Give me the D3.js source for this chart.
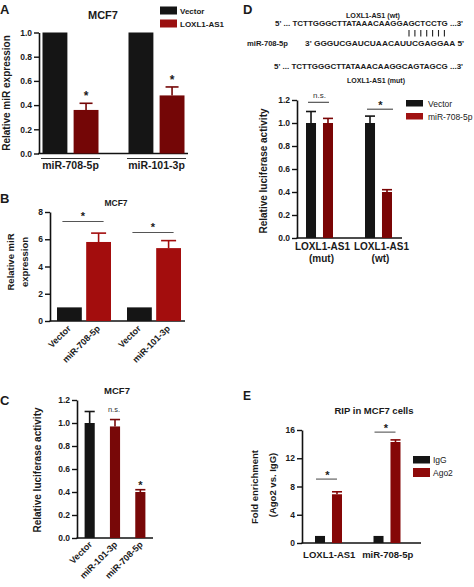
<!DOCTYPE html>
<html><head><meta charset="utf-8">
<script src="https://cdn.jsdelivr.net/npm/d3@7"></script>
<style>
body{margin:0;background:#fff}
text{font-family:"Liberation Sans",Arial,sans-serif;font-weight:bold;fill:#1a1a1a}
</style></head><body>
<script>
// ---------- DATA ----------
// Panel A
const groupsA = ["miR-708-5p", "miR-101-3p"];
const seriesA = ["Vector", "LOXL1-AS1"];
const vectorA = [1.0, 1.0];
const loxl1A = [0.36, 0.48];
const loxl1ErrA = [0.055, 0.07];
const sigA = ["*", "*"];
const yTicksA = [0, 0.2, 0.4, 0.6, 0.8, 1.0];
// Panel B
const groupsB = ["miR-708-5p", "miR-101-3p"];
const seriesB = ["Vector", "mimic"];
const barLabelsB = [["Vector", "miR-708-5p"], ["Vector", "miR-101-3p"]];
const vectorB = [1.0, 1.0];
const mimicB = [5.8, 5.35];
const mimicErrB = [0.65, 0.55];
const sigB = ["*", "*"];
const sigLevelB = [7.3, 6.5];
const yTicksB = [0, 2, 4, 6, 8];
// Panel C
const labelsC = ["Vector", "miR-101-3p", "miR-708-5p"];
const valuesC = [1.0, 0.97, 0.40];
const errC = [0.10, 0.06, 0.02];
const sigC = ["", "n.s.", "*"];
const yTicksC = [0, 0.2, 0.4, 0.6, 0.8, 1.0, 1.2];
// Panel D
const seqTitleWt = "LOXL1-AS1 (wt)";
const seqWt = "5' ... TCTTGGGCTTATAAACAAGGAGCTCCTG ...3'";
const pairing = "|||||||";
const seqMirName = "miR-708-5p";
const seqMir = "3'  GGGUCGAUCUAACAUUCGAGGAA  5'";
const seqMut = "5' ... TCTTGGGCTTATAAACAAGGCAGTAGCG ...3'";
const seqTitleMut = "LOXL1-AS1 (mut)";
const groupsD = [["LOXL1-AS1", "(mut)"], ["LOXL1-AS1", "(wt)"]];
const seriesD = ["Vector", "miR-708-5p"];
const vectorD = [1.0, 1.0];
const vectorErrD = [0.10, 0.06];
const mirD = [1.0, 0.40];
const mirErrD = [0.04, 0.02];
const sigD = ["n.s.", "*"];
const sigLevelD = [1.18, 1.12];
const yTicksD = [0, 0.2, 0.4, 0.6, 0.8, 1.0, 1.2];
// Panel E
const groupsE = ["LOXL1-AS1", "miR-708-5p"];
const seriesE = ["IgG", "Ago2"];
const igGE = [1, 1];
const ago2E = [6.9, 14.3];
const ago2ErrE = [0.35, 0.3];
const sigE = ["*", "*"];
const sigLevelE = [9.05, 15.7];
const yTicksE = [0, 4, 8, 12, 16];

// ---------- STYLE ----------
const BLACK = "#151515";
const RED_A = "#740606", RED_B = "#a30d0d", RED_C = "#780808", RED_D = "#7a0505", RED_E = "#850707";
const LEG_RED_A = "#9a1010", LEG_RED_D = "#a01212", LEG_RED_E = "#8e0a0a";

const svg = d3.select("body").append("svg").attr("width", 474).attr("height", 587);

function text(x, y, s, size, opts = {}) {
  const t = svg.append("text").attr("x", x).attr("y", y).attr("font-size", size).text(s)
    .attr("text-anchor", opts.anchor || "start");
  if (opts.weight) t.style("font-weight", opts.weight);
  if (opts.rotate !== undefined) t.attr("transform", `rotate(${opts.rotate},${x},${y})`);
  if (opts.len) t.attr("textLength", opts.len).attr("lengthAdjust", "spacingAndGlyphs");
  if (opts.fill) t.style("fill", opts.fill);
  return t;
}
function yAxis(y, x, ticks, fmt, fs) {
  const g = svg.append("g").attr("transform", `translate(${x},0)`)
    .call(d3.axisLeft(y).tickValues(ticks).tickFormat(d3.format(fmt)).tickSize(5).tickSizeOuter(0).tickPadding(2));
  g.select(".domain").attr("stroke", "#111").attr("stroke-width", 1.6);
  g.selectAll(".tick line").attr("stroke", "#111").attr("stroke-width", 1.4);
  g.selectAll(".tick text").attr("font-size", fs);
  return g;
}
function hline(x1, x2, y, color, w) {
  svg.append("line").attr("x1", x1).attr("x2", x2).attr("y1", y).attr("y2", y)
    .attr("stroke", color || "#111").attr("stroke-width", w || 1.6);
}
function bar(x, w, v, err, y, color, capW) {
  svg.append("rect").attr("x", x).attr("width", w).attr("y", y(v)).attr("height", y(0) - y(v)).attr("fill", color);
  if (err > 0) {
    const cx = x + w / 2;
    svg.append("line").attr("x1", cx).attr("x2", cx).attr("y1", y(v)).attr("y2", y(v + err))
      .attr("stroke", color).attr("stroke-width", 1.6);
    svg.append("line").attr("x1", cx - capW / 2).attr("x2", cx + capW / 2).attr("y1", y(v + err)).attr("y2", y(v + err))
      .attr("stroke", color).attr("stroke-width", 1.6);
  }
}

// ---------- PANEL A ----------
{
  const y = d3.scaleLinear([0, 1], [153.5, 32.5]);
  const x0 = d3.scaleBand(groupsA, [27.5, 199.5]);
  const x1 = d3.scaleBand(seriesA, [15, 71]).paddingInner(0.2);
  text(0, 14, "A", 13);
  text(103, 19, "MCF7", 11, { anchor: "middle" });
  text(10, 93, "Relative miR expression", 10, { anchor: "middle", rotate: -90 });
  yAxis(y, 39, yTicksA, ".1f", 8.5);
  hline(38, 188, y(0));
  groupsA.forEach((g, i) => {
    const gx = x0(g);
    bar(gx + x1("Vector"), x1.bandwidth(), vectorA[i], 0, y, BLACK, 0);
    bar(gx + x1("LOXL1-AS1"), x1.bandwidth(), loxl1A[i], loxl1ErrA[i], y, RED_A, 13);
    const cx = gx + x1("LOXL1-AS1") + x1.bandwidth() / 2;
    text(cx, y(loxl1A[i] + loxl1ErrA[i]) - 3, sigA[i], 12, { anchor: "middle" });
    hline(gx + x1.range()[0] - 1.5, gx + x1.range()[1] + 1.5, 158.5, "#333", 1.2);
    text(gx + x0.bandwidth() / 2, 169, g, 10.5, { anchor: "middle" });
  });
  const leg = [[seriesA[0], BLACK], [seriesA[1], LEG_RED_A]];
  leg.forEach((d, i) => {
    svg.append("rect").attr("x", 160).attr("y", 6.5 + i * 13).attr("width", 17).attr("height", 8).attr("fill", d[1]);
    text(180, 13.5 + i * 13, d[0], 8);
  });
}

// ---------- PANEL B ----------
{
  const y = d3.scaleLinear([0, 8], [321, 212]);
  const x0 = d3.scaleBand(groupsB, [49, 189]);
  const x1 = d3.scaleBand(seriesB, [8, 62]).paddingInner(0.15);
  text(0, 203, "B", 13);
  text(116, 206, "MCF7", 8.5, { anchor: "middle" });
  text(14, 262, "Relative miR", 9.5, { anchor: "middle", rotate: -90 });
  text(27.5, 262, "expression", 9.5, { anchor: "middle", rotate: -90 });
  yAxis(y, 50, yTicksB, "d", 8.5);
  hline(49.5, 185, y(0));
  groupsB.forEach((g, i) => {
    const gx = x0(g);
    const bw = x1.bandwidth();
    bar(gx + x1("Vector"), bw, vectorB[i], 0, y, BLACK, 0);
    bar(gx + x1("mimic"), bw, mimicB[i], mimicErrB[i], y, RED_B, 15);
    const cV = gx + x1("Vector") + bw / 2, cM = gx + x1("mimic") + bw / 2;
    hline(cV - 7, cM + 5, y(sigLevelB[i]), "#555", 1.1);
    text((cV + cM) / 2 - 1, y(sigLevelB[i]) - 1.5, sigB[i], 11, { anchor: "middle" });
    [cV, cM].forEach((cx, j) => {
      text(cx + 2, y(0) + 8, barLabelsB[i][j], 9, { anchor: "end", rotate: -45 });
    });
  });
}

// ---------- PANEL C ----------
{
  const y = d3.scaleLinear([0, 1.2], [538, 400]);
  const x = d3.scaleBand(labelsC, [77, 153]).paddingInner(0.6).paddingOuter(0.3);
  text(0, 405, "C", 13);
  text(117, 394, "MCF7", 9.5, { anchor: "middle" });
  text(41, 470, "Relative luciferase activity", 10, { anchor: "middle", rotate: -90 });
  yAxis(y, 77, yTicksC, ".1f", 8.5);
  hline(76.5, 153, y(0));
  labelsC.forEach((l, i) => {
    const bw = x.bandwidth();
    bar(x(l), bw, valuesC[i], errC[i], y, i === 0 ? BLACK : RED_C, bw);
    const cx = x(l) + bw / 2;
    if (sigC[i] === "n.s.") text(cx - 1, y(valuesC[i] + errC[i]) - 7.5, sigC[i], 7.5, { anchor: "middle", weight: "normal", fill: "#333" });
    else if (sigC[i]) text(cx, y(valuesC[i] + errC[i]) - 1, sigC[i], 11, { anchor: "middle" });
    text(cx + 3, y(0) + 7, l, 9, { anchor: "end", rotate: -45 });
  });
}

// ---------- PANEL D ----------
{
  text(243, 14, "D", 13);
  text(373, 18, seqTitleWt, 8, { anchor: "middle", len: 54 });
  text(275, 25.5, seqWt, 8, { len: 188 });
  // base-pairing ticks, one per "|" in the pairing string
  pairing.split("").forEach((c, k) => {
    svg.append("line").attr("x1", 409 + k * 5.9).attr("x2", 409 + k * 5.9).attr("y1", 30).attr("y2", 36.5)
      .attr("stroke", "#222").attr("stroke-width", 1.1);
  });
  text(247, 46, seqMirName, 8, { len: 41 });
  text(305, 46, seqMir, 8, { len: 159 });
  text(274, 69, seqMut, 8, { len: 189 });
  text(376, 83, seqTitleMut, 8, { anchor: "middle", len: 58 });

  const y = d3.scaleLinear([0, 1.2], [238, 100]);
  const x0 = d3.scaleBand(groupsD.map(d => d.join(" ")), [290, 408]);
  const x1 = d3.scaleBand(seriesD, [16, 43]).paddingInner(0.41);
  text(267, 171, "Relative luciferase activity", 10, { anchor: "middle", rotate: -90 });
  yAxis(y, 297, yTicksD, ".1f", 8.5);
  hline(296.5, 402, y(0));
  groupsD.forEach((g, i) => {
    const gx = x0(g.join(" "));
    const bw = x1.bandwidth();
    bar(gx + x1(seriesD[0]), bw, vectorD[i], vectorErrD[i], y, BLACK, bw);
    bar(gx + x1(seriesD[1]), bw, mirD[i], mirErrD[i], y, RED_D, bw);
    const cV = gx + x1(seriesD[0]) + bw / 2, cM = gx + x1(seriesD[1]) + bw / 2;
    const ly = y(sigLevelD[i]);
    hline(cV - 3, cM + (i === 0 ? 1 : 6), ly, "#444", 1.1);
    if (sigD[i] === "n.s.") text((cV + cM) / 2, ly - 4, sigD[i], 8, { anchor: "middle", weight: "normal", fill: "#333" });
    else text((cV + cM) / 2 + 2, ly - 0.5, sigD[i], 11, { anchor: "middle" });
    const cx = gx + x0.bandwidth() / 2 + 3;
    text(cx, 250, g[0], 10, { anchor: "middle" });
    text(cx - 1, 262, g[1], 10, { anchor: "middle" });
  });
  const leg = [[seriesD[0], BLACK], [seriesD[1], LEG_RED_D]];
  leg.forEach((d, i) => {
    svg.append("rect").attr("x", 406).attr("y", 100 + i * 13).attr("width", 17).attr("height", 6.5).attr("fill", d[1]);
    text(428, 106.5 + i * 13, d[0], 8.5, { weight: "normal" });
  });
}

// ---------- PANEL E ----------
{
  const y = d3.scaleLinear([0, 16], [543, 430]);
  const x0 = d3.scaleBand(groupsE, [299, 416]);
  const x1 = d3.scaleBand(seriesE, [16, 43]).paddingInner(0.41);
  text(243, 400, "E", 12);
  text(374, 414, "RIP in MCF7 cells", 9.5, { anchor: "middle" });
  text(258, 487, "Fold enrichment", 9.5, { anchor: "middle", rotate: -90 });
  text(275.5, 485, "(Ago2 vs. IgG)", 9.5, { anchor: "middle", rotate: -90 });
  yAxis(y, 302, yTicksE, "d", 8.5);
  hline(301.5, 421, y(0));
  groupsE.forEach((g, i) => {
    const gx = x0(g);
    const bw = x1.bandwidth();
    bar(gx + x1(seriesE[0]), bw, igGE[i], 0, y, BLACK, 0);
    bar(gx + x1(seriesE[1]), bw, ago2E[i], ago2ErrE[i], y, RED_E, bw);
    const cI = gx + x1(seriesE[0]) + bw / 2, cA = gx + x1(seriesE[1]) + bw / 2;
    const ly = y(sigLevelE[i]);
    hline(cI - 4, cA, ly, "#555", 1.1);
    text((cI + cA) / 2 - 1, ly - 0.5, sigE[i], 11, { anchor: "middle" });
    text(gx + x0.bandwidth() / 2 + 1, 558, g, 9.5, { anchor: "middle" });
  });
  const leg = [[seriesE[0], BLACK], [seriesE[1], LEG_RED_E]];
  leg.forEach((d, i) => {
    svg.append("rect").attr("x", 413).attr("y", 456 + i * 12).attr("width", 17).attr("height", 7.5 + i * 1.5).attr("fill", d[1]);
    text(433, 462.5 + i * 13, d[0], 8.5, { weight: "normal" });
  });
}
</script>
</body></html>
